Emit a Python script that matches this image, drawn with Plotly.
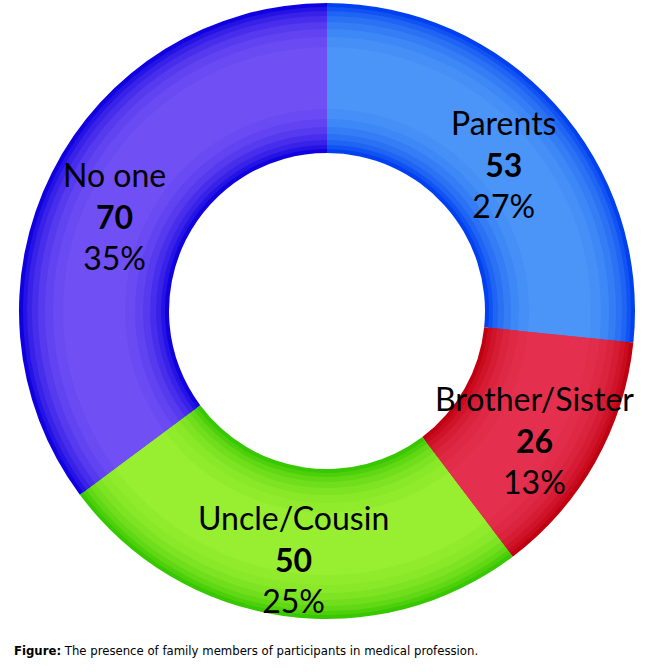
import math
import plotly.graph_objs as go

# Gegevens uit de figuur
labels = ["Parents", "Brother/Sister", "Uncle/Cousin", "No one"]
counts = [53, 26, 50, 70]

caption_bold = "Figure:"
caption_text = "The presence of family members of participants in medical profession."

# Randkleur en middenkleur per segment (voor het verloop)
edge_colors = ["#0040f0", "#c00010", "#38c800", "#1000e0"]
center_colors = ["#4a95f7", "#e4304e", "#98ee30", "#7050f4"]

W, H = 650, 672
CX, CY = 327, 311  # middelpunt van de ring in px
R_IN, R_OUT = 158, 308
LABEL_R = 238

# Inspringing (px) en mengfactor per laag, van rand naar midden
layer_inset = [0, 4, 8, 13, 19, 26, 34, 44]
layer_mix = [0.0, 0.22, 0.42, 0.58, 0.72, 0.84, 0.93, 1.0]


def blend(c1, c2, t):
    a = [int(c1[i:i + 2], 16) for i in (1, 3, 5)]
    b = [int(c2[i:i + 2], 16) for i in (1, 3, 5)]
    return "#%02x%02x%02x" % tuple(round(x + (y - x) * t) for x, y in zip(a, b))


def ring_trace(colors, r_in, r_out):
    return go.Pie(
        labels=labels,
        values=counts,
        hole=r_in / r_out,
        sort=False,
        direction="clockwise",
        rotation=0,
        marker=dict(colors=colors, line=dict(width=0)),
        textinfo="none",
        domain=dict(
            x=[(CX - r_out) / W, (CX + r_out) / W],
            y=[1 - (CY + r_out) / H, 1 - (CY - r_out) / H],
        ),
        showlegend=False,
        hoverinfo="label+value+percent",
    )


def label_annotations(labels, counts):
    total = sum(counts)
    notes = []
    cum = 0
    for name, c in zip(labels, counts):
        theta = 2 * math.pi * (cum + c / 2) / total
        cum += c
        x_px = CX + LABEL_R * math.sin(theta)
        y_px = CY - LABEL_R * math.cos(theta)
        notes.append(dict(
            text="%s<br><b>%d</b><br>%d%%" % (name, c, round(100 * c / total)),
            xref="paper", yref="paper",
            x=x_px / W, y=1 - y_px / H,
            xanchor="center", yanchor="middle",
            yshift=-12,
            showarrow=False,
            font=dict(family="Lato, Open Sans, sans-serif", size=32, color="#000000"),
        ))
    return notes


def create_donut_chart(labels, counts):
    traces = []
    for d, t in zip(layer_inset, layer_mix):
        colors = [blend(e, m, t) for e, m in zip(edge_colors, center_colors)]
        traces.append(ring_trace(colors, R_IN + d, R_OUT - d))
    notes = label_annotations(labels, counts)
    notes.append(dict(
        text="<b>" + caption_bold + "</b> " + caption_text,
        xref="paper", yref="paper",
        x=12 / W, y=1 - 650 / H,
        xanchor="left", yanchor="middle",
        showarrow=False,
        font=dict(family="Liberation Sans Narrow, DejaVu Sans Condensed, Roboto Condensed, sans-serif",
                  size=13, color="#000000"),
    ))
    return go.Figure(
        data=traces,
        layout=go.Layout(
            width=W,
            height=H,
            margin=dict(l=0, r=0, t=0, b=0),
            paper_bgcolor="white",
            plot_bgcolor="white",
            annotations=notes,
        ),
    )


fig = create_donut_chart(labels, counts)
fig.write_html("out.html", config={"displayModeBar": False},
               post_script="document.body.style.margin='0';")
